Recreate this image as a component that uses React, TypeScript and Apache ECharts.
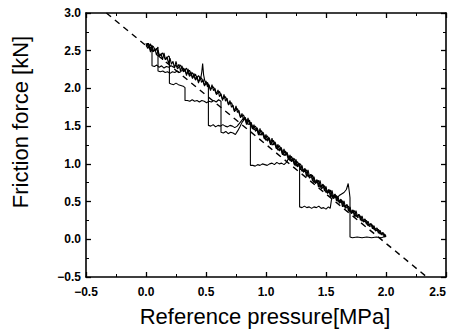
import React, { useEffect, useRef } from "react";
import * as echarts from "echarts";

// Axis ranges / ticks
const xRange = [-0.5, 2.5];
const yRange = [-0.5, 3.0];
const tickStep = 0.5;

// Axis titles
const xTitle = "Reference pressure[MPa]";
const yTitle = "Friction force [kN]";

// Dashed fit line (pressure, force)
const fitLine: number[][] = [
  [-0.33, 3.0],
  [2.34, -0.5],
];

// Run 1: slips at 0.05, 0.52, 1.28, 1.70
const run1: number[][] = [
  [0.0, 2.56], [0.0125, 2.6], [0.0375, 2.53], [0.05, 2.57], [0.05, 2.3],
  [0.07, 2.29], [0.09, 2.31], [0.11, 2.28], [0.13, 2.3], [0.15, 2.27], [0.17, 2.29],
  [0.19, 2.28], [0.21, 2.3], [0.23, 2.28], [0.25, 2.31],
  [0.2625, 2.26], [0.2875, 2.31], [0.3125, 2.22], [0.3375, 2.27], [0.3625, 2.16],
  [0.3875, 2.21], [0.4125, 2.11], [0.4375, 2.17], [0.455, 2.12],
  [0.465, 2.22], [0.472, 2.33], [0.48, 2.18], [0.49, 2.1], [0.505, 2.06], [0.52, 2.04], [0.52, 1.51],
  [0.54, 1.5], [0.56, 1.52], [0.58, 1.49], [0.6, 1.51], [0.62, 1.5], [0.64, 1.52], [0.66, 1.5],
  [0.68, 1.49], [0.7, 1.51], [0.72, 1.5], [0.74, 1.48], [0.76, 1.5], [0.78, 1.54], [0.8, 1.58],
  [0.82, 1.62], [0.84, 1.57],
  [0.8625, 1.56], [0.8875, 1.47], [0.9125, 1.5], [0.9375, 1.4], [0.9625, 1.44], [0.9875, 1.33],
  [1.0125, 1.37], [1.0375, 1.27], [1.0625, 1.31], [1.0875, 1.2], [1.1125, 1.24], [1.1375, 1.13],
  [1.1625, 1.17], [1.1875, 1.06], [1.2125, 1.1], [1.2375, 0.99], [1.2625, 1.03], [1.28, 0.96], [1.28, 0.43],
  [1.3, 0.42], [1.32, 0.44], [1.34, 0.42], [1.36, 0.43], [1.38, 0.41], [1.4, 0.43], [1.42, 0.42],
  [1.44, 0.44], [1.46, 0.41], [1.48, 0.42], [1.5, 0.4], [1.52, 0.43], [1.535, 0.41], [1.545, 0.52],
  [1.555, 0.56], [1.57, 0.57], [1.59, 0.55], [1.61, 0.58], [1.63, 0.6], [1.65, 0.62], [1.67, 0.66],
  [1.685, 0.74], [1.695, 0.62], [1.7, 0.55], [1.7, 0.03],
  [1.72, 0.02], [1.76, 0.03], [1.8, 0.02], [1.84, 0.03], [1.88, 0.02], [1.92, 0.03], [1.96, 0.02],
  [1.98, 0.03], [1.99, 0.06], [2.0, 0.05],
];

// Run 2: slips at 0.195, 0.325, 0.625
const run2: number[][] = [
  [0.0125, 2.54], [0.0375, 2.59], [0.0625, 2.49], [0.0875, 2.53], [0.1125, 2.43], [0.1375, 2.47],
  [0.1625, 2.38], [0.1875, 2.43], [0.195, 2.42], [0.195, 2.07],
  [0.21, 2.06], [0.23, 2.05], [0.25, 2.07], [0.27, 2.05], [0.29, 2.04], [0.31, 2.03], [0.325, 2.01], [0.325, 1.84],
  [0.345, 1.84], [0.365, 1.83], [0.385, 1.85], [0.405, 1.83], [0.425, 1.84], [0.445, 1.82], [0.465, 1.84],
  [0.485, 1.83], [0.505, 1.81], [0.525, 1.83], [0.545, 1.82], [0.565, 1.84], [0.585, 1.82], [0.605, 1.85],
  [0.625, 1.83], [0.625, 1.42],
  [0.645, 1.41], [0.665, 1.43], [0.685, 1.4], [0.705, 1.42], [0.725, 1.41], [0.745, 1.39],
  [0.765, 1.44], [0.785, 1.5], [0.8, 1.55], [0.815, 1.58],
  [0.825, 1.62], [0.85, 1.52], [0.875, 1.55], [0.9, 1.45], [0.925, 1.48], [0.95, 1.38], [0.975, 1.42],
  [1.0, 1.31], [1.025, 1.35], [1.05, 1.25], [1.075, 1.29], [1.1, 1.18], [1.125, 1.22], [1.15, 1.11],
  [1.175, 1.15], [1.2, 1.04], [1.225, 1.08], [1.25, 0.97], [1.275, 1.01], [1.3, 0.9], [1.325, 0.94],
  [1.35, 0.83], [1.375, 0.86], [1.4, 0.75], [1.425, 0.79], [1.45, 0.69], [1.475, 0.73], [1.5, 0.62],
  [1.525, 0.66], [1.55, 0.56], [1.575, 0.6], [1.6, 0.5], [1.625, 0.53], [1.65, 0.43], [1.675, 0.46],
  [1.7, 0.36], [1.725, 0.39], [1.75, 0.3], [1.775, 0.33], [1.8, 0.24], [1.825, 0.27], [1.85, 0.18],
  [1.875, 0.21], [1.9, 0.13], [1.925, 0.15], [1.95, 0.07], [1.975, 0.09], [2.0, 0.04],
];

// Run 3: slips at 0.10, 0.87
const run3: number[][] = [
  [0.005, 2.55], [0.02, 2.6], [0.035, 2.54], [0.06, 2.56], [0.08, 2.5], [0.1, 2.55], [0.1, 2.23],
  [0.12, 2.22], [0.14, 2.23], [0.16, 2.21], [0.18, 2.22], [0.2, 2.2], [0.22, 2.22], [0.24, 2.21],
  [0.26, 2.23], [0.28, 2.21], [0.3, 2.24],
  [0.3125, 2.27], [0.3375, 2.19], [0.3625, 2.24], [0.3875, 2.14], [0.4125, 2.19], [0.4375, 2.09],
  [0.4625, 2.14], [0.4875, 2.04], [0.5125, 2.08], [0.5375, 1.99], [0.5625, 2.02], [0.5875, 1.92],
  [0.6125, 1.96], [0.6375, 1.86], [0.6625, 1.89], [0.6875, 1.79], [0.7125, 1.81], [0.7375, 1.7],
  [0.7625, 1.73], [0.7875, 1.62], [0.8125, 1.65], [0.8375, 1.54], [0.8625, 1.58], [0.87, 1.53], [0.87, 0.98],
  [0.89, 0.98], [0.91, 0.97], [0.93, 0.99], [0.95, 0.98], [0.97, 1.0], [0.99, 0.99], [1.01, 0.98],
  [1.03, 1.0], [1.05, 1.01], [1.07, 0.99], [1.09, 1.02], [1.11, 1.0], [1.13, 1.01], [1.15, 0.99],
  [1.17, 1.02], [1.185, 1.06], [1.195, 1.1],
  [1.2125, 1.03], [1.2375, 1.07], [1.2625, 0.96], [1.2875, 1.0], [1.3125, 0.89], [1.3375, 0.92],
  [1.3625, 0.81], [1.3875, 0.85], [1.4125, 0.74], [1.4375, 0.78], [1.4625, 0.67], [1.4875, 0.71],
  [1.5125, 0.61], [1.5375, 0.65], [1.5625, 0.54], [1.5875, 0.58], [1.6125, 0.48], [1.6375, 0.51],
  [1.6625, 0.41], [1.6875, 0.44], [1.7125, 0.34], [1.7375, 0.38], [1.7625, 0.29], [1.7875, 0.31],
  [1.8125, 0.23], [1.8375, 0.25], [1.8625, 0.17], [1.8875, 0.19], [1.9125, 0.11], [1.9375, 0.13],
  [1.9625, 0.06], [1.9875, 0.06], [2.0, 0.03],
];

// Run 4: continuous sliding along the band (dense, noisy)
const run4: number[][] = [
  [0.0, 2.6], [0.0125, 2.53], [0.025, 2.56], [0.0375, 2.48], [0.05, 2.57], [0.0625, 2.49], [0.075, 2.52], [0.0875, 2.44],
  [0.1, 2.51], [0.1125, 2.43], [0.125, 2.46], [0.1375, 2.38], [0.15, 2.47], [0.1625, 2.38], [0.175, 2.42], [0.1875, 2.33],
  [0.2, 2.4], [0.2125, 2.32], [0.225, 2.36], [0.2375, 2.27], [0.25, 2.36], [0.2625, 2.28], [0.275, 2.32], [0.2875, 2.23],
  [0.3, 2.3], [0.3125, 2.22], [0.325, 2.26], [0.3375, 2.17], [0.35, 2.26], [0.3625, 2.18], [0.375, 2.22], [0.3875, 2.13],
  [0.4, 2.2], [0.4125, 2.12], [0.425, 2.16], [0.4375, 2.07], [0.45, 2.16], [0.4625, 2.08], [0.475, 2.12], [0.4875, 2.03],
  [0.5, 2.1], [0.5125, 2.02], [0.525, 2.05], [0.5375, 1.97], [0.55, 2.05], [0.5625, 1.97], [0.575, 2.0], [0.5875, 1.92],
  [0.6, 1.98], [0.6125, 1.89], [0.625, 1.93], [0.6375, 1.84], [0.65, 1.92], [0.6625, 1.83], [0.675, 1.87], [0.6875, 1.78],
  [0.7, 1.84], [0.7125, 1.75], [0.725, 1.78], [0.7375, 1.69], [0.75, 1.77], [0.7625, 1.68], [0.775, 1.71], [0.7875, 1.61],
  [0.8, 1.67], [0.8125, 1.58], [0.825, 1.61], [0.8375, 1.52], [0.85, 1.61], [0.8625, 1.52], [0.875, 1.55], [0.8875, 1.46],
  [0.9, 1.52], [0.9125, 1.43], [0.925, 1.47], [0.9375, 1.38], [0.95, 1.47], [0.9625, 1.38], [0.975, 1.41], [0.9875, 1.33],
  [1.0, 1.39], [1.0125, 1.3], [1.025, 1.34], [1.0375, 1.25], [1.05, 1.34], [1.0625, 1.25], [1.075, 1.28], [1.0875, 1.2],
  [1.1, 1.26], [1.1125, 1.17], [1.125, 1.21], [1.1375, 1.12], [1.15, 1.2], [1.1625, 1.11], [1.175, 1.15], [1.1875, 1.06],
  [1.2, 1.12], [1.2125, 1.03], [1.225, 1.07], [1.2375, 0.98], [1.25, 1.06], [1.2625, 0.97], [1.275, 1.01], [1.2875, 0.92],
  [1.3, 0.98], [1.3125, 0.89], [1.325, 0.92], [1.3375, 0.83], [1.35, 0.92], [1.3625, 0.83], [1.375, 0.86], [1.3875, 0.77],
  [1.4, 0.83], [1.4125, 0.74], [1.425, 0.78], [1.4375, 0.69], [1.45, 0.78], [1.4625, 0.69], [1.475, 0.72], [1.4875, 0.64],
  [1.5, 0.7], [1.5125, 0.61], [1.525, 0.65], [1.5375, 0.56], [1.55, 0.65], [1.5625, 0.56], [1.575, 0.59], [1.5875, 0.51],
  [1.6, 0.57], [1.6125, 0.48], [1.625, 0.52], [1.6375, 0.43], [1.65, 0.51], [1.6625, 0.42], [1.675, 0.46], [1.6875, 0.37],
  [1.7, 0.43], [1.7125, 0.35], [1.725, 0.38], [1.7375, 0.3], [1.75, 0.38], [1.7625, 0.3], [1.775, 0.33], [1.7875, 0.25],
  [1.8, 0.31], [1.8125, 0.24], [1.825, 0.25], [1.8375, 0.2], [1.85, 0.24], [1.8625, 0.19], [1.875, 0.2], [1.8875, 0.14],
  [1.9, 0.18], [1.9125, 0.12], [1.925, 0.13], [1.9375, 0.08], [1.95, 0.12], [1.9625, 0.07], [1.975, 0.08], [1.9875, 0.03],
  [2.0, 0.04],
];

const runs = [run1, run2, run3, run4];

const FONT = "'Liberation Sans', Arial, sans-serif";

const fmt = (v: number) => (v < 0 ? "\u2212" + Math.abs(v).toFixed(1) : v.toFixed(1));

export default function App() {
  const ref = useRef<HTMLDivElement>(null);

  useEffect(() => {
    if (!ref.current) return;
    const chart = echarts.init(ref.current, null, { renderer: "svg" });

    const axisCommon = {
      type: "value" as const,
      interval: tickStep,
      axisLine: { show: true, onZero: false, lineStyle: { color: "#000", width: 1.6 } },
      axisTick: { show: true, inside: true, length: 5, lineStyle: { color: "#000", width: 1.3 } },
      minorTick: { show: true, splitNumber: 2, length: 3, lineStyle: { color: "#000", width: 1 } },
      splitLine: { show: false },
      minorSplitLine: { show: false },
    };

    const labelStyle = {
      show: true,
      color: "#000",
      fontSize: 12,
      fontWeight: "bold" as const,
      fontFamily: FONT,
      formatter: fmt,
    };

    chart.setOption({
      animation: false,
      backgroundColor: "#fff",
      grid: { left: 86, right: 6, top: 13, bottom: 52, containLabel: false, outerBoundsMode: "none" },
      xAxis: [
        {
          ...axisCommon,
          position: "bottom",
          min: xRange[0],
          max: xRange[1],
          axisLabel: { ...labelStyle, margin: 9, alignMaxLabel: "right" },
        },
        {
          ...axisCommon,
          position: "top",
          min: xRange[0],
          max: xRange[1],
          axisLabel: { show: false },
        },
      ],
      yAxis: [
        {
          ...axisCommon,
          position: "left",
          min: yRange[0],
          max: yRange[1],
          axisLabel: { ...labelStyle, margin: 5 },
        },
        {
          ...axisCommon,
          position: "right",
          min: yRange[0],
          max: yRange[1],
          axisLabel: { show: false },
        },
      ],
      series: [
        {
          type: "line",
          data: fitLine,
          showSymbol: false,
          silent: true,
          lineStyle: { color: "#000", width: 1.4, type: [6, 5] },
          z: 1,
        },
        ...runs.map((r) => ({
          type: "line",
          data: r,
          showSymbol: false,
          silent: true,
          lineStyle: { color: "#000", width: 1.1 },
          z: 2,
        })),
      ],
      graphic: [
        {
          type: "text",
          x: 265,
          y: 316,
          style: {
            text: xTitle,
            font: `22px ${FONT}`,
            fill: "#000",
            textAlign: "center",
            textVerticalAlign: "middle",
            align: "center",
            verticalAlign: "middle",
          },
        },
        {
          type: "text",
          x: 20,
          y: 122,
          rotation: Math.PI / 2,
          style: {
            text: yTitle,
            font: `22px ${FONT}`,
            fill: "#000",
            textAlign: "center",
            textVerticalAlign: "middle",
            align: "center",
            verticalAlign: "middle",
          },
        },
      ],
    });

    return () => chart.dispose();
  }, []);

  return (
    <div
      ref={ref}
      style={{ position: "absolute", left: 0, top: 0, width: 452, height: 329, background: "#fff" }}
    />
  );
}
